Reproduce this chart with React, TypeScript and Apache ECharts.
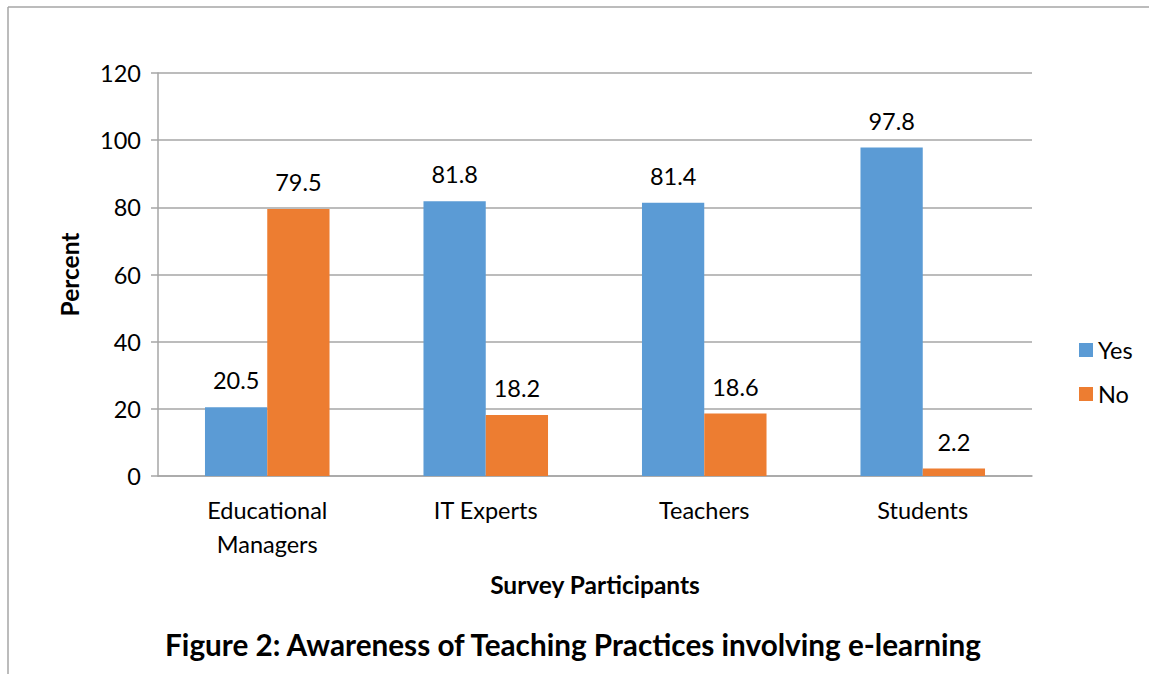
import React, { useEffect, useRef } from "react";
import * as echarts from "echarts";

const categories = ["Educational\nManagers", "IT Experts", "Teachers", "Students"];
const yesValues = [20.5, 81.8, 81.4, 97.8];
const noValues = [79.5, 18.2, 18.6, 2.2];
const seriesNames = ["Yes", "No"];

const FONT = "Lato, 'Open Sans', sans-serif";

export default function App() {
  const ref = useRef<HTMLDivElement>(null);
  useEffect(() => {
    if (!ref.current) return;
    const chart = echarts.init(ref.current, null, { renderer: "svg" });
    const labelStyle = { show: true, position: "top", distance: 15, fontSize: 23.5, color: "#000", fontFamily: FONT };
    chart.setOption({
      animation: false,
      backgroundColor: "#fff",
      textStyle: { fontFamily: FONT },
      title: {
        text: "Figure 2: Awareness of Teaching Practices involving e-learning",
        left: 568,
        top: 624,
        textAlign: "center",
        textStyle: { fontSize: 29.7, fontWeight: "bold", color: "#000", fontFamily: FONT },
      },
      legend: {
        orient: "vertical",
        left: 1074,
        top: 333,
        itemWidth: 14,
        itemHeight: 14,
        itemGap: 20,
        icon: "rect",
        textStyle: { fontSize: 23.5, color: "#000", fontFamily: FONT },
        data: seriesNames,
      },
      grid: { left: 158, top: 73, width: 874, height: 403, containLabel: false },
      xAxis: {
        type: "category",
        data: categories,
        name: "Survey Participants",
        nameLocation: "middle",
        nameGap: 96,
        nameTextStyle: { fontSize: 24.5, fontWeight: "bold", color: "#000", fontFamily: FONT },
        axisLine: { lineStyle: { color: "#a6a6a6", width: 1.5 } },
        axisTick: { show: false },
        axisLabel: { fontSize: 23.5, color: "#000", margin: 17, lineHeight: 34, fontFamily: FONT },
      },
      yAxis: {
        type: "value",
        min: 0,
        max: 120,
        interval: 20,
        name: "Percent",
        nameLocation: "middle",
        nameGap: 76,
        nameRotate: 90,
        nameTextStyle: { fontSize: 24.5, fontWeight: "bold", color: "#000", fontFamily: FONT },
        axisLine: { show: true, lineStyle: { color: "#a6a6a6", width: 1.5 } },
        axisTick: { show: true, length: 7, lineStyle: { color: "#a6a6a6", width: 1.5 } },
        axisLabel: { fontSize: 23.5, color: "#000", margin: 17, fontFamily: FONT },
        splitLine: { lineStyle: { color: "#a6a6a6", width: 1.5 } },
      },
      series: [
        {
          name: seriesNames[0],
          type: "bar",
          data: yesValues,
          itemStyle: { color: "#5b9bd5" },
          barGap: "0%",
          barCategoryGap: "43%",
          label: labelStyle,
        },
        {
          name: seriesNames[1],
          type: "bar",
          data: noValues,
          itemStyle: { color: "#ed7d31" },
          barGap: "0%",
          barCategoryGap: "43%",
          label: labelStyle,
        },
      ],
      graphic: [
        { type: "line", shape: { x1: 8, y1: 7, x2: 1149, y2: 7 }, style: { stroke: "#a6a6a6", lineWidth: 1.5 } },
        { type: "line", shape: { x1: 8, y1: 7, x2: 8, y2: 674 }, style: { stroke: "#a6a6a6", lineWidth: 1.5 } },
      ],
    });
    return () => chart.dispose();
  }, []);
  return (
    <div
      ref={ref}
      style={{ position: "absolute", left: 0, top: 0, width: 1149, height: 674 }}
    />
  );
}
